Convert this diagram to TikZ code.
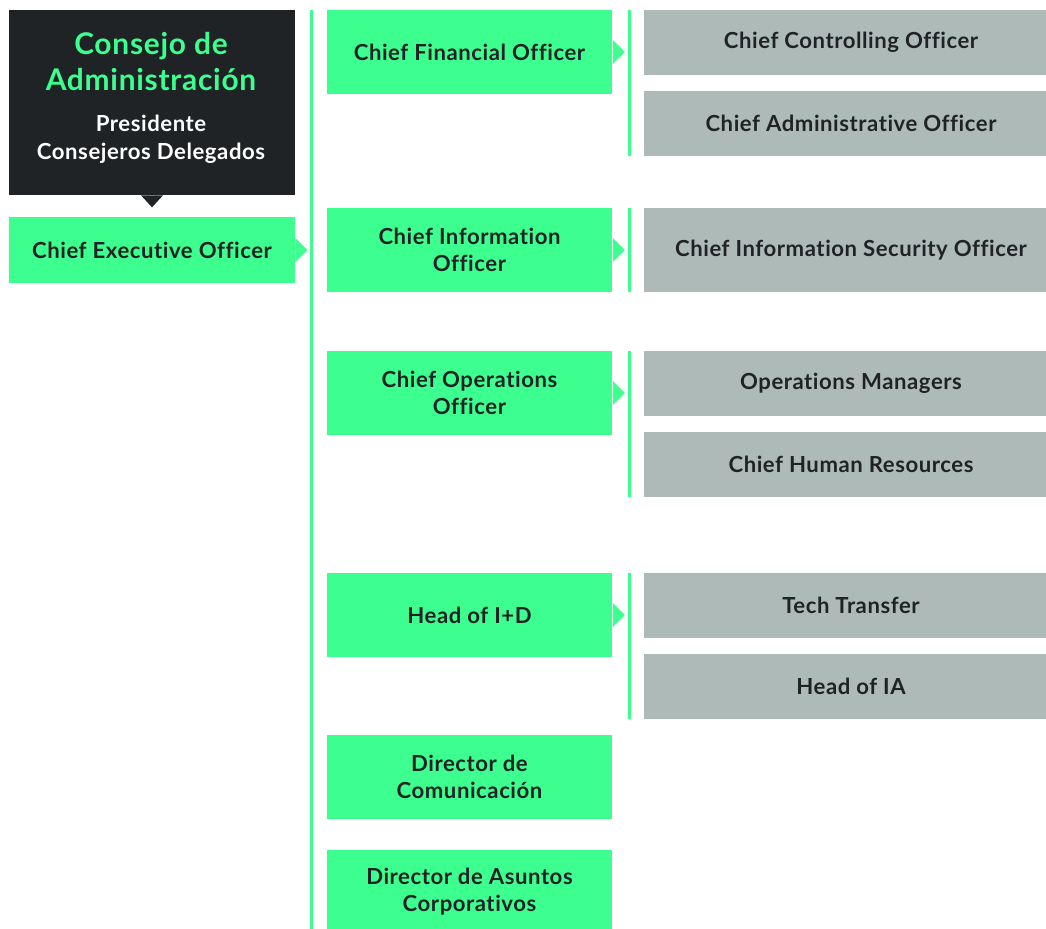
\documentclass[tikz,border=0pt]{standalone}
\usepackage{fontspec}
\setmainfont{Lato}[LetterSpace=2.5, Ligatures={NoCommon}]
\usetikzlibrary{positioning}
\definecolor{mint}{RGB}{61,255,143}
\definecolor{charcoal}{RGB}{32,35,37}
\definecolor{slate}{RGB}{174,186,184}
\newcommand{\tipright}[1]{\fill[mint] (#1.east) ++(0,-12) -- ++(12,12) -- ++(-12,12) -- cycle;}
\begin{document}
\begin{tikzpicture}[x=0.02cm,y=-0.02cm]
  \tikzset{GreenStyle/.style = {shape        = rectangle,
                                fill         = mint,
                                text         = charcoal,
                                font         = \bfseries\fontsize{12.6}{15.4}\selectfont,
                                align        = center,
                                inner sep    = 0pt,
                                minimum width  = 5.72cm,
                                minimum height = 1.68cm},
           GreyStyle/.style = {GreenStyle,
                                fill         = slate,
                                minimum width  = 8.28cm,
                                minimum height = 1.3cm},
           BarStyle/.style  = {mint, line width = 0.06cm}}
  \useasboundingbox (0,0) rectangle (1046,929);
  \begin{scope}
	%%% CONSEJO %%%
	\node[GreenStyle, fill=charcoal, minimum height=3.7cm](board) at (152,102.5){};
	\fill[charcoal] ([xshift=-0.22cm]board.south) -- ++(11,12) -- ++(11,-12) -- cycle;
	\node[text=mint, font=\bfseries\fontsize{17}{20.5}\selectfont, align=center](title) at (151,62){Consejo de\\Administración};
	\node[text=white, font=\bfseries\fontsize{12.6}{16}\selectfont, align=center](members) at (151,139){Presidente\\Consejeros Delegados};
	\node[GreenStyle, minimum height=1.32cm](ceo) at (152,250){Chief Executive Officer};
	\tipright{ceo}
	%%% COLUMNA VERDE %%%
	\coordinate (bartop) at (311,10);
	\coordinate (barbot) at (311,929);
	\draw[BarStyle] (bartop) -- (barbot);
	\node[GreenStyle](cfo) at (469.5,52){Chief Financial Officer};
	\node[GreenStyle](cio) at (469.5,250){Chief Information\\Officer};
	\node[GreenStyle](coo) at (469.5,393){Chief Operations\\Officer};
	\node[GreenStyle](hid) at (469.5,615){Head of I+D};
	\node[GreenStyle](dcom) at (469.5,777){Director de\\Comunicación};
	\node[GreenStyle](dasc) at (469.5,892){Director de Asuntos\\Corporativos};
	\tipright{cfo}
	\tipright{cio}
	\tipright{coo}
	\tipright{hid}
	%%% COLUMNA GRIS %%%
	\tikzset{node distance = 0.3cm}
	\node[GreyStyle](cco) at (851,42.5){Chief Controlling Officer};
	\node[GreyStyle, below=of cco](cao){Chief Administrative Officer};
	\node[GreyStyle, minimum height=1.68cm](ciso) at (851,250){Chief Information Security Officer};
	\node[GreyStyle](opm) at (851,383.5){Operations Managers};
	\node[GreyStyle, below=of opm](chr){Chief Human Resources};
	\node[GreyStyle](tech) at (851,605.5){Tech Transfer};
	\node[GreyStyle, below=of tech](hia){Head of IA};
	%
	\draw[BarStyle] (629,0 |- cco.north) -- (629,0 |- cao.south);
	\draw[BarStyle] (629,0 |- ciso.north) -- (629,0 |- ciso.south);
	\draw[BarStyle] (629,0 |- opm.north) -- (629,0 |- chr.south);
	\draw[BarStyle] (629,0 |- tech.north) -- (629,0 |- hia.south);
  \end{scope}
\end{tikzpicture}
\end{document}
